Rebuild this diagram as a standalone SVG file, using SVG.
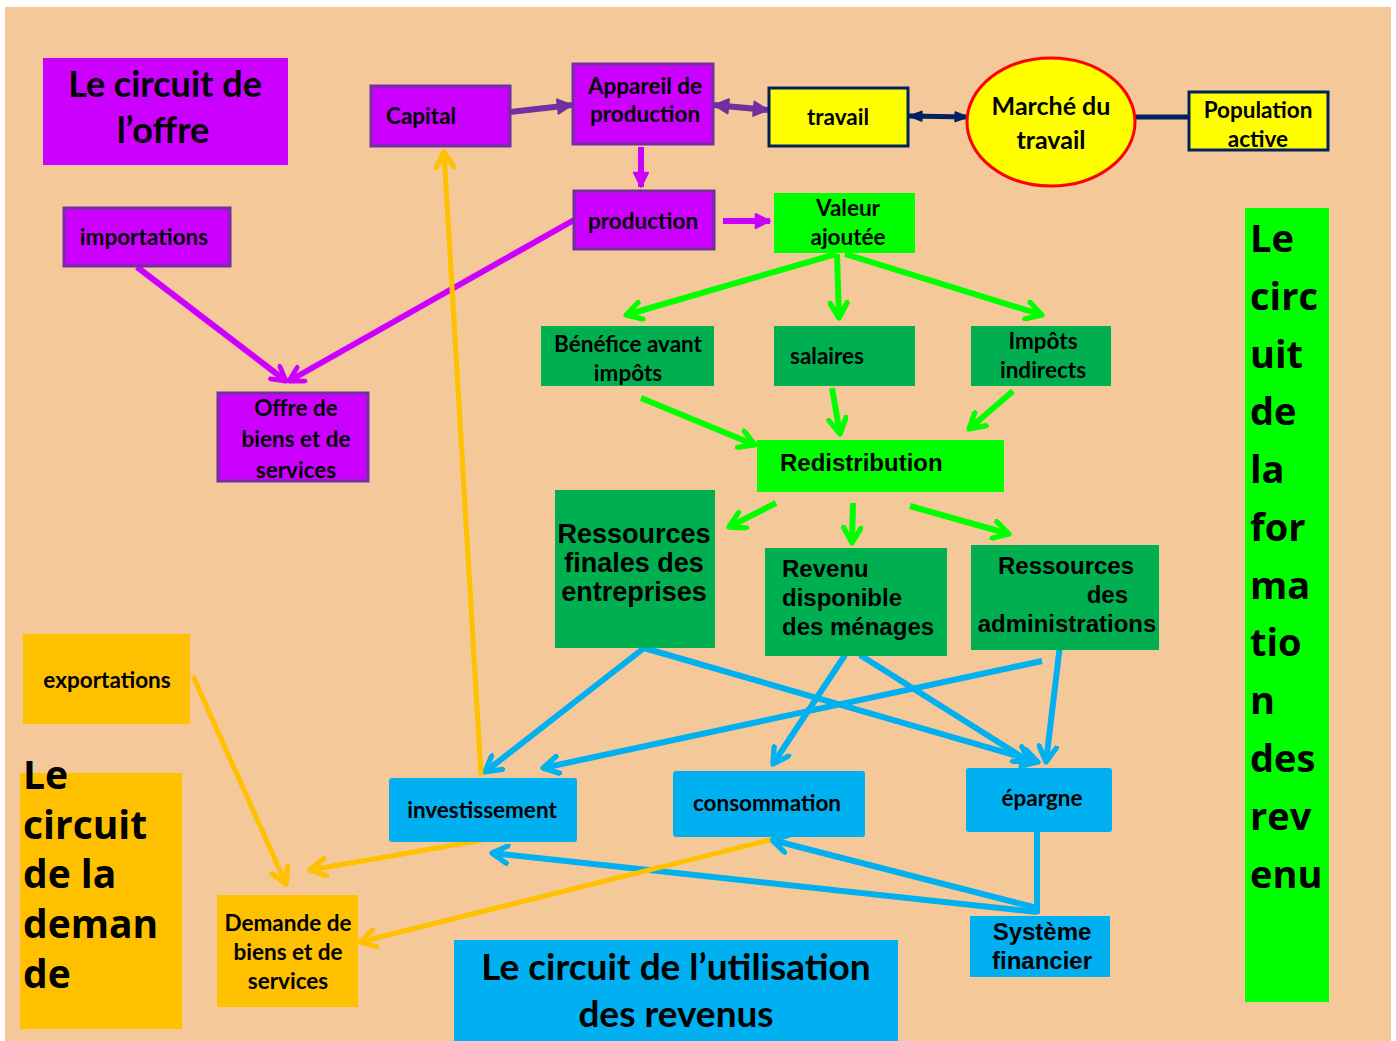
<svg xmlns="http://www.w3.org/2000/svg" width="1396" height="1041" viewBox="0 0 1396 1041">
<style>
.bg{fill:#F5C89A}
.pur{fill:#CC00FF;stroke:#7030A0;stroke-width:3}
.pur0{fill:#CC00FF}
.yel{fill:#FFFF00;stroke:#002060;stroke-width:3}
.lg{fill:#00FF00}
.dg{fill:#00B050}
.bl{fill:#00B0F0}
.or{fill:#FFC000}
text{font-family:Lato,"Liberation Sans",sans-serif;font-weight:bold;fill:#000}
.c{text-anchor:middle}
.t20{font-size:22.5px}
.ar{font-family:"Liberation Sans",Arial,sans-serif;font-weight:bold}
.os{font-family:"Open Sans","Noto Sans",sans-serif;font-weight:bold}
.lm{stroke:#CC00FF;stroke-width:6;fill:none}
.lp{stroke:#7030A0;stroke-width:6;fill:none}
.ln{stroke:#002060;stroke-width:5;fill:none}
.lgr{stroke:#00FF00;stroke-width:6;fill:none}
.lb{stroke:#00B0F0;stroke-width:6;fill:none}
.lo{stroke:#FFC000;stroke-width:5;fill:none}
</style>
<defs>
<marker id="mM" viewBox="0 0 10 10" refX="8" refY="5" markerUnits="userSpaceOnUse" markerWidth="20" markerHeight="20" orient="auto"><path d="M1,1 L8,5 L1,9" fill="none" stroke="#CC00FF" stroke-width="2.4" stroke-linejoin="round" stroke-linecap="round"/></marker>
<marker id="mMf" viewBox="0 0 10 10" refX="9" refY="5" markerUnits="userSpaceOnUse" markerWidth="18" markerHeight="18" orient="auto"><path d="M1,1 L9,5 L1,9 Z" fill="#CC00FF" stroke="#CC00FF" stroke-width="1" stroke-linejoin="round"/></marker>
<marker id="mP" viewBox="0 0 10 10" refX="9" refY="5" markerUnits="userSpaceOnUse" markerWidth="18" markerHeight="18" orient="auto-start-reverse"><path d="M1,1 L9,5 L1,9 Z" fill="#7030A0" stroke="#7030A0" stroke-width="1" stroke-linejoin="round"/></marker>
<marker id="mN" viewBox="0 0 10 10" refX="9" refY="5" markerUnits="userSpaceOnUse" markerWidth="16" markerHeight="16" orient="auto-start-reverse"><path d="M1,2 L9,5 L1,8 Z" fill="#002060" stroke="#002060" stroke-width="1" stroke-linejoin="round"/></marker>
<marker id="mG" viewBox="0 0 10 10" refX="8" refY="5" markerUnits="userSpaceOnUse" markerWidth="22" markerHeight="22" orient="auto"><path d="M1,1 L8,5 L1,9" fill="none" stroke="#00FF00" stroke-width="2.4" stroke-linejoin="round" stroke-linecap="round"/></marker>
<marker id="mB" viewBox="0 0 10 10" refX="8" refY="5" markerUnits="userSpaceOnUse" markerWidth="22" markerHeight="22" orient="auto"><path d="M1,1 L8,5 L1,9" fill="none" stroke="#00B0F0" stroke-width="2.4" stroke-linejoin="round" stroke-linecap="round"/></marker>
<marker id="mO" viewBox="0 0 10 10" refX="8" refY="5" markerUnits="userSpaceOnUse" markerWidth="22" markerHeight="22" orient="auto"><path d="M1,1 L8,5 L1,9" fill="none" stroke="#FFC000" stroke-width="2.4" stroke-linejoin="round" stroke-linecap="round"/></marker>
</defs>
<rect x="0" y="0" width="1396" height="1041" fill="#FFFFFF"/>
<rect class="bg" x="5" y="7" width="1386" height="1034"/>

<g id="connectors">
<line class="lp" x1="510" y1="112" x2="572" y2="105" marker-end="url(#mP)"/>
<line class="lp" x1="714" y1="105" x2="768" y2="110" marker-start="url(#mP)" marker-end="url(#mP)"/>
<line class="ln" x1="909" y1="116" x2="968" y2="117" marker-start="url(#mN)" marker-end="url(#mN)"/>
<line class="ln" x1="1135" y1="117" x2="1189" y2="117" stroke-width="3"/>
<line class="lm" x1="641" y1="147" x2="641" y2="187" marker-end="url(#mMf)"/>
<line class="lm" x1="723" y1="221" x2="770" y2="221" marker-end="url(#mMf)"/>
<line class="lm" x1="137" y1="267" x2="286" y2="381" marker-end="url(#mM)"/>
<line class="lm" x1="574" y1="220" x2="289" y2="381" marker-end="url(#mM)"/>
<line class="lgr" x1="836" y1="254" x2="626" y2="315" marker-end="url(#mG)"/>
<line class="lgr" x1="837" y1="254" x2="839" y2="318" marker-end="url(#mG)"/>
<line class="lgr" x1="845" y1="254" x2="1042" y2="315" marker-end="url(#mG)"/>
<line class="lgr" x1="641" y1="398" x2="755" y2="445" marker-end="url(#mG)"/>
<line class="lgr" x1="832" y1="388" x2="840" y2="434" marker-end="url(#mG)"/>
<line class="lgr" x1="1013" y1="391" x2="969" y2="429" marker-end="url(#mG)"/>
<line class="lgr" x1="776" y1="503" x2="729" y2="527" marker-end="url(#mG)"/>
<line class="lgr" x1="853" y1="503" x2="852" y2="543" marker-end="url(#mG)"/>
<line class="lgr" x1="910" y1="506" x2="1009" y2="534" marker-end="url(#mG)"/>
<line class="lb" x1="644" y1="648" x2="485" y2="772" marker-end="url(#mB)"/>
<line class="lb" x1="644" y1="648" x2="1038" y2="762" marker-end="url(#mB)"/>
<line class="lb" x1="845" y1="655" x2="773" y2="764" marker-end="url(#mB)"/>
<line class="lb" x1="860" y1="655" x2="1030" y2="762" marker-end="url(#mB)"/>
<line class="lb" x1="1042" y1="661" x2="543" y2="768" marker-end="url(#mB)"/>
<line class="lb" x1="1060" y1="645" x2="1046" y2="762" stroke-width="4" marker-end="url(#mB)"/>
<line class="lb" x1="1037" y1="832" x2="1037" y2="914" stroke-width="3"/>
<line class="lb" x1="1037" y1="908" x2="772" y2="840" marker-end="url(#mB)"/>
<line class="lb" x1="1037" y1="912" x2="492" y2="853" marker-end="url(#mB)"/>
<line class="lo" x1="481" y1="775" x2="444" y2="152" stroke-width="4" marker-end="url(#mO)"/>
<line class="lo" x1="193" y1="676" x2="286" y2="884" marker-end="url(#mO)"/>
<line class="lo" x1="483" y1="840" x2="310" y2="870" marker-end="url(#mO)"/>
<line class="lo" x1="770" y1="840" x2="360" y2="942" marker-end="url(#mO)"/>
</g>

<g id="title-offre"><rect class="pur0" x="43" y="58" width="245" height="107"/>
<text class="c" x="165" y="97" font-size="36">Le circuit de</text>
<text class="c" x="163" y="143" font-size="36">l’offre</text></g>

<g id="capital"><rect class="pur" x="371" y="86" width="139" height="60"/>
<text class="t20" x="386" y="124">Capital</text></g>

<g id="appareil"><rect class="pur" x="573" y="64" width="140" height="80"/>
<text class="c t20" x="645" y="94">Appareil de</text>
<text class="c t20" x="645" y="122">production</text></g>

<g id="travail"><rect class="yel" x="769" y="88" width="139" height="58"/>
<text class="c t20" x="838" y="125">travail</text></g>

<g id="marche"><ellipse cx="1051" cy="122" rx="84" ry="64" fill="#FFFF00" stroke="#FF0000" stroke-width="3"/>
<text class="c" x="1051" y="115" font-size="25">Marché du</text>
<text class="c" x="1051" y="149" font-size="25">travail</text></g>

<g id="population"><rect class="yel" x="1189" y="92" width="139" height="58"/>
<text class="c t20" x="1258" y="118">Population</text>
<text class="c t20" x="1258" y="147">active</text></g>

<g id="production"><rect class="pur" x="574" y="191" width="140" height="58"/>
<text class="c t20" x="643" y="229">production</text></g>

<g id="valeur"><rect class="lg" x="774" y="193" width="141" height="60"/>
<text class="c t20" x="848" y="216">Valeur</text>
<text class="c t20" x="848" y="245">ajoutée</text></g>

<g id="importations"><rect class="pur" x="64" y="208" width="166" height="58"/>
<text class="c t20" x="144" y="245">importations</text></g>

<g id="offre"><rect class="pur" x="218" y="393" width="150" height="88"/>
<text class="c t20" x="296" y="416">Offre de</text>
<text class="c t20" x="296" y="447">biens et de</text>
<text class="c t20" x="296" y="478">services</text></g>

<g id="benefice"><rect class="dg" x="541" y="326" width="173" height="60"/>
<text class="c t20" x="628" y="352">Bénéfice avant</text>
<text class="c t20" x="628" y="381">impôts</text></g>

<g id="salaires"><rect class="dg" x="774" y="326" width="141" height="60"/>
<text class="t20" x="790" y="364">salaires</text></g>

<g id="impots"><rect class="dg" x="971" y="326" width="140" height="60"/>
<text class="c t20" x="1043" y="349">Impôts</text>
<text class="c t20" x="1043" y="378">indirects</text></g>

<g id="redistribution"><rect class="lg" x="757" y="440" width="247" height="52"/>
<text class="ar" x="780" y="471" font-size="24">Redistribution</text></g>

<g id="ress-entreprises"><rect class="dg" x="555" y="490" width="160" height="158"/>
<text class="ar c" x="634" y="543" font-size="27">Ressources</text>
<text class="ar c" x="634" y="572" font-size="27">finales des</text>
<text class="ar c" x="634" y="601" font-size="27">entreprises</text></g>

<g id="revenu"><rect class="dg" x="765" y="548" width="182" height="108"/>
<text class="ar" x="782" y="577" font-size="24">Revenu</text>
<text class="ar" x="782" y="606" font-size="24">disponible</text>
<text class="ar" x="782" y="635" font-size="24">des ménages</text></g>

<g id="ress-admin"><rect class="dg" x="971" y="545" width="188" height="105"/>
<text class="ar c" x="1066" y="574" font-size="24">Ressources</text>
<text class="ar" x="1128" y="603" font-size="24" text-anchor="end">des</text>
<text class="ar c" x="1067" y="632" font-size="24">administrations</text></g>

<g id="exportations"><rect class="or" x="23" y="634" width="167" height="90"/>
<text class="c t20" x="107" y="688">exportations</text></g>

<g id="investissement"><rect class="bl" x="389" y="778" width="188" height="64" rx="3"/>
<text class="c t20" x="482" y="818">investissement</text></g>

<g id="consommation"><rect class="bl" x="673" y="771" width="192" height="66" rx="3"/>
<text class="c t20" x="767" y="811">consommation</text></g>

<g id="epargne"><rect class="bl" x="966" y="768" width="146" height="64" rx="3"/>
<text class="c t20" x="1042" y="806">épargne</text></g>

<g id="systeme"><rect class="bl" x="970" y="916" width="140" height="61"/>
<text class="ar c" x="1042" y="940" font-size="24">Système</text>
<text class="ar c" x="1042" y="969" font-size="24">financier</text></g>

<g id="demande"><rect class="or" x="217" y="895" width="141" height="112"/>
<text class="c t20" x="288" y="931">Demande de</text>
<text class="c t20" x="288" y="960">biens  et de</text>
<text class="c t20" x="288" y="989">services</text></g>

<g id="title-demande"><rect class="or" x="20" y="773" width="162" height="256"/>
<text class="os" x="23" y="789" font-size="39">Le</text>
<text class="os" x="23" y="839" font-size="39">circuit</text>
<text class="os" x="23" y="888" font-size="39">de la</text>
<text class="os" x="23" y="938" font-size="39">deman</text>
<text class="os" x="23" y="988" font-size="39">de</text></g>

<g id="title-utilisation"><rect class="bl" x="454" y="940" width="444" height="101"/>
<text class="c" x="676" y="980" font-size="37">Le circuit de l’utilisation</text>
<text class="c" x="676" y="1027" font-size="37">des revenus</text></g>

<g id="title-revenu"><rect class="lg" x="1245" y="208" width="84" height="794"/>
<text class="os" x="1250" y="252" font-size="38">Le</text>
<text class="os" x="1250" y="310" font-size="38">circ</text>
<text class="os" x="1250" y="368" font-size="38">uit</text>
<text class="os" x="1250" y="425" font-size="38">de</text>
<text class="os" x="1250" y="483" font-size="38">la</text>
<text class="os" x="1250" y="541" font-size="38">for</text>
<text class="os" x="1250" y="599" font-size="38">ma</text>
<text class="os" x="1250" y="656" font-size="38">tio</text>
<text class="os" x="1250" y="714" font-size="38">n</text>
<text class="os" x="1250" y="772" font-size="38">des</text>
<text class="os" x="1250" y="830" font-size="38">rev</text>
<text class="os" x="1250" y="888" font-size="38">enu</text></g>
</svg>
